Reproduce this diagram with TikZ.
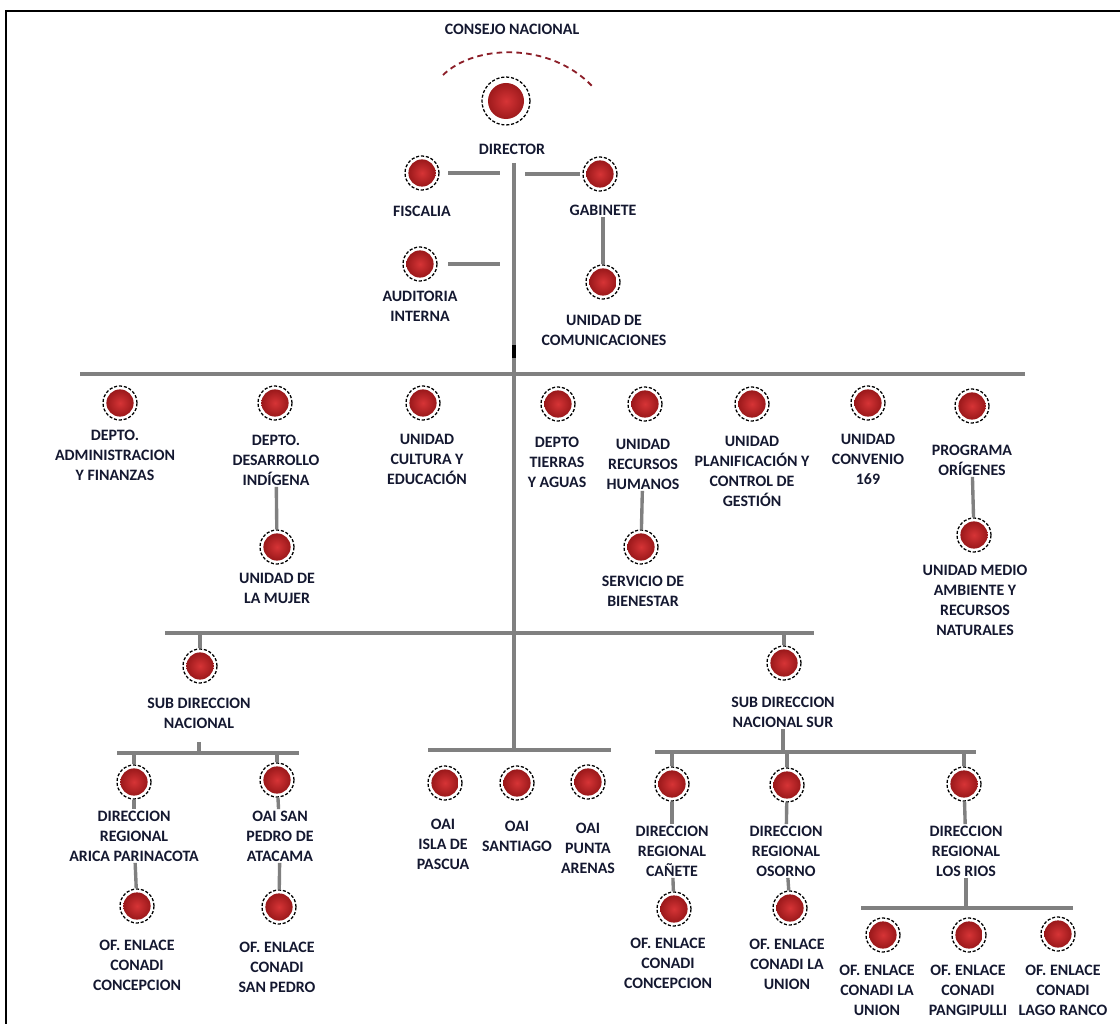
\documentclass[tikz,border=0pt]{standalone}
\usepackage{fontspec}
\setmainfont{Carlito}
\usetikzlibrary{calc}
\definecolor{orgred}{RGB}{214,52,54}
\definecolor{orgdark}{RGB}{140,18,20}
\definecolor{linkgray}{RGB}{128,128,128}
\definecolor{labelnavy}{RGB}{20,24,48}
\definecolor{arcred}{RGB}{140,30,40}

\begin{document}
\begin{tikzpicture}[
    x=0.025cm, y=-0.025cm,
    orgdot/.style={circle, draw=black, line width=0.9pt, dash pattern=on 2.2pt off 1.3pt,
                   fill=white, minimum size=0.85cm, inner sep=0pt,
                   path picture={\shade[inner color=orgred, outer color=orgdark]
                       (path picture bounding box.center) circle (0.34cm);}},
    bigdot/.style={orgdot, minimum size=1.2cm,
                   path picture={\shade[inner color=orgred, outer color=orgdark]
                       (path picture bounding box.center) circle (0.45cm);}},
    lbl/.style={font=\fontsize{11.3}{14.2}\selectfont\bfseries, text=labelnavy,
                align=center, inner sep=1pt},
    link/.style={draw=linkgray, line width=2.4pt}
]
\useasboundingbox (0,0) rectangle (1120,1024);

% frame
\draw[line width=1.6pt] (6,1024) -- (6,11) -- (1120,11);

% Director and staff
\node[lbl] (consejo) at (512,29) {CONSEJO NACIONAL};
\draw[arcred, line width=1.3pt, dash pattern=on 4pt off 3pt]
    (443,75) .. controls (475,44) and (550,42) .. (592,86);

\node[bigdot] (dir) at (506,101) {};
\node[lbl] (dirlbl) at (512,149) {DIRECTOR};

\node[orgdot] (fis) at (422,173) {};
\node[lbl] (fislbl) at (422,211) {FISCALIA};
\node[orgdot] (gab) at (600,174) {};
\node[lbl] (gablbl) at (603,210) {GABINETE};
\node[orgdot] (aud) at (420,264) {};
\node[lbl] (audlbl) at (420,306) {AUDITORIA\\INTERNA};
\node[orgdot] (com) at (603,282) {};
\node[lbl] (comlbl) at (604,330) {UNIDAD DE\\COMUNICACIONES};

\coordinate (trunktop) at (514,163);
\coordinate (trunkbot) at (514,750);
\draw[link] (trunktop) -- (trunkbot);
\draw[line width=2.2pt, black] (514,345) -- (514,358);

\draw[link, shorten <=2.2mm, shorten >=3.5mm] (fis) -- (fis -| trunktop);
\draw[link, shorten <=0.5mm, shorten >=2.7mm] (gab) -- (gab -| trunktop);
\draw[link, shorten <=2.7mm, shorten >=3.5mm] (aud) -- (aud -| trunktop);
\draw[link] (gablbl) -- (com);

% Departments and units
\coordinate (barL) at (80,374);
\coordinate (barR) at (1025,374);
\draw[link] (barL) -- (barR);

\node[orgdot] (adm) at (120,403) {};
\node[lbl] (admlbl) at (115,455) {DEPTO.\\ADMINISTRACION\\Y FINANZAS};
\node[orgdot] (des) at (275,403) {};
\node[lbl] (deslbl) at (276,460) {DEPTO.\\DESARROLLO\\INDÍGENA};
\node[orgdot] (muj) at (277,547) {};
\node[lbl] (mujlbl) at (277,588) {UNIDAD DE\\LA MUJER};
\node[orgdot] (cul) at (423,403) {};
\node[lbl] (cullbl) at (427,459) {UNIDAD\\CULTURA Y\\EDUCACIÓN};
\node[orgdot] (tie) at (558,404) {};
\node[lbl] (tielbl) at (557,462) {DEPTO\\TIERRAS\\Y AGUAS};
\node[orgdot] (rrh) at (645,404) {};
\node[lbl] (rrhlbl) at (643,464) {UNIDAD\\RECURSOS\\HUMANOS};
\node[orgdot] (bie) at (641,547) {};
\node[lbl] (bielbl) at (643,591) {SERVICIO DE\\BIENESTAR};
\node[orgdot] (pla) at (752,404) {};
\node[lbl] (plalbl) at (752,471) {UNIDAD\\PLANIFICACIÓN Y\\CONTROL DE\\GESTIÓN};
\node[orgdot] (con) at (868,403) {};
\node[lbl] (conlbl) at (868,459) {UNIDAD\\CONVENIO\\169};
\node[orgdot] (ori) at (972,406) {};
\node[lbl] (orilbl) at (972,460) {PROGRAMA\\ORÍGENES};
\node[orgdot] (med) at (974,535) {};
\node[lbl] (medlbl) at (975,600) {UNIDAD MEDIO\\AMBIENTE Y\\RECURSOS\\NATURALES};

\draw[link] (deslbl) -- (muj);
\draw[link] (rrhlbl) -- (bie);
\draw[link] (orilbl) -- (med);

% Sub directions
\coordinate (b3L) at (165,633);
\coordinate (b3R) at (814,633);
\draw[link] (b3L) -- (b3R);

\node[orgdot] (sdn) at (200,666) {};
\node[lbl] (sdnlbl) at (199,713) {SUB DIRECCION\\NACIONAL};
\node[orgdot] (sds) at (784,663) {};
\node[lbl] (sdslbl) at (783,712) {SUB DIRECCION\\NACIONAL SUR};
\draw[link] (sdn |- b3L) -- (sdn);
\draw[link] (sds |- b3L) -- (sds);

% Sub direccion nacional
\coordinate (b4lL) at (117,753);
\coordinate (b4lR) at (299,753);
\draw[link] (b4lL) -- (b4lR);
\draw[link, shorten <=3mm] (sdnlbl) -- (sdnlbl |- b4lL);

\node[orgdot] (ari) at (134,782) {};
\node[lbl] (arilbl) at (134,836) {DIRECCION\\REGIONAL\\ARICA PARINACOTA};
\node[orgdot] (ofa) at (137,906) {};
\node[lbl] (ofalbl) at (137,965) {OF. ENLACE\\CONADI\\CONCEPCION};
\node[orgdot] (spa) at (277,780) {};
\node[lbl] (spalbl) at (280,836) {OAI SAN\\PEDRO DE\\ATACAMA};
\node[orgdot] (ofs) at (279,907) {};
\node[lbl] (ofslbl) at (277,967) {OF. ENLACE\\CONADI\\SAN PEDRO};

\draw[link] (ari |- b4lL) -- (ari);
\draw[link] (spa |- b4lL) -- (spa);
\draw[link] (ari) -- (arilbl);
\draw[link] (spa) -- (spalbl);
\draw[link] (arilbl) -- (ofa);
\draw[link] (spalbl) -- (ofs);

% OAI
\coordinate (oL) at (428,750);
\coordinate (oR) at (611,750);
\draw[link] (oL) -- (oR);

\node[orgdot] (isl) at (445,783) {};
\node[lbl] (isllbl) at (443,844) {OAI\\ISLA DE\\PASCUA};
\node[orgdot] (stg) at (517,783) {};
\node[lbl] (stglbl) at (517,836) {OAI\\SANTIAGO};
\node[orgdot] (pun) at (588,782) {};
\node[lbl] (punlbl) at (588,848) {OAI\\PUNTA\\ARENAS};

% Sub direccion nacional sur
\coordinate (b4rL) at (655,752);
\coordinate (b4rR) at (976,752);
\draw[link] (b4rL) -- (b4rR);
\draw[link] (sdslbl) -- (sdslbl |- b4rL);

\node[orgdot] (can) at (672,784) {};
\node[lbl] (canlbl) at (672,851) {DIRECCION\\REGIONAL\\CAÑETE};
\node[orgdot] (ofc) at (674,909) {};
\node[lbl] (ofclbl) at (668,963) {OF. ENLACE\\CONADI\\CONCEPCION};
\node[orgdot] (oso) at (787,785) {};
\node[lbl] (osolbl) at (786,851) {DIRECCION\\REGIONAL\\OSORNO};
\node[orgdot] (ofo) at (790,908) {};
\node[lbl] (ofolbl) at (787,964) {OF. ENLACE\\CONADI LA\\UNION};
\node[orgdot] (rio) at (964,784) {};
\node[lbl] (riolbl) at (966,851) {DIRECCION\\REGIONAL\\LOS RIOS};

\draw[link] (can |- b4rL) -- (can);
\draw[link] (oso |- b4rL) -- (oso);
\draw[link] (rio |- b4rL) -- (rio);
\draw[link] (can) -- (canlbl);
\draw[link] (oso) -- (osolbl);
\draw[link] (rio) -- (riolbl);
\draw[link] (canlbl) -- (ofc);
\draw[link] (osolbl) -- (ofo);

% Los Rios offices
\coordinate (b5L) at (861,908);
\coordinate (b5R) at (1073,908);
\draw[link] (b5L) -- (b5R);
\draw[link] (riolbl) -- (riolbl |- b5L);

\node[orgdot] (lun) at (883,935) {};
\node[lbl] (lunlbl) at (877,990) {OF. ENLACE\\CONADI LA\\UNION};
\node[orgdot] (pan) at (969,935) {};
\node[lbl] (panlbl) at (968,990) {OF. ENLACE\\CONADI\\PANGIPULLI};
\node[orgdot] (lag) at (1058,934) {};
\node[lbl] (laglbl) at (1063,990) {OF. ENLACE\\CONADI\\LAGO RANCO};

\end{tikzpicture}
\end{document}
